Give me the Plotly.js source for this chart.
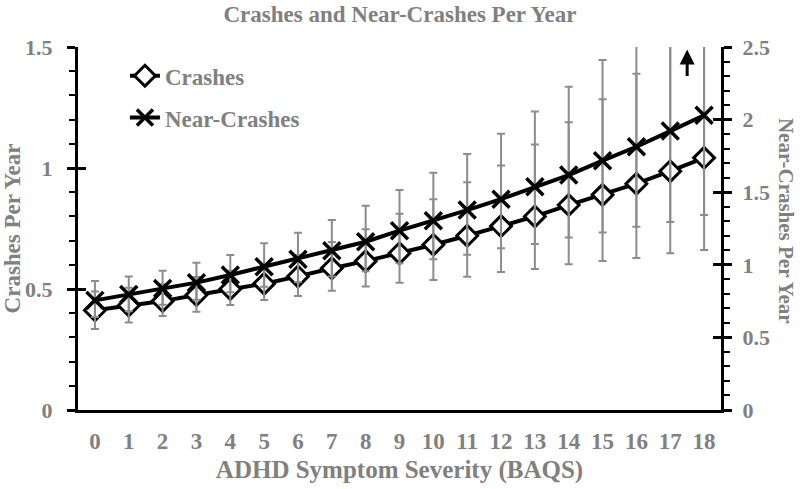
<!DOCTYPE html>
<html>
<head>
<meta charset="utf-8">
<script src="https://cdn.plot.ly/plotly-3.0.1.min.js"></script>
<style>
html,body{margin:0;padding:0;background:#fff;}
#chart{width:800px;height:489px;}
</style>
</head>
<body>
<div id="chart"></div>
<script>
// ---- data ----
const xLabels = ['0','1','2','3','4','5','6','7','8','9','10','11','12','13','14','15','16','17','18'];

const crashes   = [0.412,0.432,0.450,0.475,0.500,0.522,0.552,0.586,0.615,0.648,0.683,0.720,0.760,0.800,0.847,0.889,0.935,0.987,1.042];
const crashLow  = [0.335,0.362,0.388,0.406,0.434,0.455,0.471,0.493,0.510,0.526,0.537,0.551,0.570,0.583,0.602,0.616,0.628,0.648,0.661];
const crashHigh = [0.490,0.505,0.520,0.550,0.575,0.595,0.640,0.694,0.747,0.811,0.871,0.941,1.010,1.097,1.189,1.284,1.389,1.560,1.650];

const nearCrashes = [0.755,0.795,0.836,0.877,0.930,0.987,1.038,1.097,1.159,1.235,1.304,1.377,1.452,1.538,1.618,1.717,1.813,1.921,2.030];
const nearLow     = [0.640,0.680,0.725,0.759,0.811,0.849,0.882,0.919,0.955,1.010,1.038,1.070,1.114,1.143,1.188,1.222,1.262,1.295,1.343];
const nearHigh    = [0.888,0.920,0.959,1.014,1.067,1.148,1.221,1.309,1.407,1.515,1.634,1.763,1.903,2.056,2.227,2.410,2.600,2.850,3.050];

const leftTicks  = [0, 0.5, 1, 1.5];
const rightTicks = [0, 0.5, 1, 1.5, 2, 2.5];

const xVals = xLabels.map(Number);
const plus  = (hi, v) => hi.map((h, i) => h - v[i]);
const minus = (lo, v) => lo.map((l, i) => v[i] - l);

const GRAY = '#808080';
const FONT = 'Liberation Serif, Times New Roman, serif';

const traces = [
  {
    x: xVals, y: crashes, name: 'Crashes', type: 'scatter', mode: 'lines+markers',
    xaxis: 'x', yaxis: 'y', legendgroup: 'a',
    line: {color: '#000', width: 4},
    marker: {symbol: 'diamond', size: 16, color: '#fff', line: {color: '#000', width: 3}}
  },
  {
    x: xVals, y: crashes, type: 'scatter', mode: 'markers', showlegend: false, hoverinfo: 'skip',
    xaxis: 'x', yaxis: 'y',
    marker: {size: 1, color: 'rgba(0,0,0,0)'},
    error_y: {type: 'data', symmetric: false, array: plus(crashHigh, crashes), arrayminus: minus(crashLow, crashes),
              color: '#8c8c8c', thickness: 2, width: 4}
  },
  {
    x: xVals, y: nearCrashes, type: 'scatter', mode: 'markers', showlegend: false, hoverinfo: 'skip',
    xaxis: 'x', yaxis: 'y2',
    marker: {size: 1, color: 'rgba(0,0,0,0)'},
    error_y: {type: 'data', symmetric: false, array: plus(nearHigh, nearCrashes), arrayminus: minus(nearLow, nearCrashes),
              color: '#8c8c8c', thickness: 2, width: 4}
  },
  {
    x: xVals, y: nearCrashes, name: 'Near-Crashes', type: 'scatter', mode: 'lines+markers',
    xaxis: 'x', yaxis: 'y2', legendgroup: 'b',
    line: {color: '#000', width: 4},
    marker: {symbol: 'x-thin', size: 17, color: '#000', line: {color: '#000', width: 3.5}}
  },
  // inner halves of the crossing major ticks
  {x: [null], y: [null], xaxis: 'x', yaxis: 'y3', showlegend: false, hoverinfo: 'skip', type: 'scatter'},
  {x: [null], y: [null], xaxis: 'x', yaxis: 'y4', showlegend: false, hoverinfo: 'skip', type: 'scatter'}
];

const layout = {
  width: 800, height: 489,
  margin: {l: 78, r: 79, t: 47, b: 79},
  paper_bgcolor: '#fff', plot_bgcolor: '#fff',
  font: {family: FONT, color: GRAY, size: 20, weight: 'bold'},
  title: {text: 'Crashes and Near-Crashes Per Year', x: 0.5, xanchor: 'center', y: 0.971, yanchor: 'middle',
          font: {family: FONT, size: 23, color: GRAY, weight: 'bold'}},
  showlegend: true,
  legend: {x: 0.073, y: 0.98, xanchor: 'left', yanchor: 'top', bgcolor: 'rgba(0,0,0,0)',
           traceorder: 'grouped', tracegroupgap: 9, itemwidth: 30,
           font: {family: FONT, size: 23, color: GRAY, weight: 'bold'}},
  xaxis: {
    range: [-0.5, 18.5], tickmode: 'array', tickvals: xVals, ticktext: xLabels,
    showline: true, linecolor: '#000', linewidth: 3, ticks: '', showgrid: false, zeroline: false,
    ticklabelstandoff: 8,
    tickfont: {family: FONT, size: 23, color: GRAY, weight: 'bold'},
    title: {text: 'ADHD Symptom Severity (BAQS)', standoff: 8, font: {family: FONT, size: 25, color: GRAY, weight: 'bold'}}
  },
  yaxis: {
    range: [0, 1.5], tickmode: 'array', tickvals: leftTicks, ticktext: leftTicks.map(String),
    showline: true, linecolor: '#000', linewidth: 3, showgrid: false, zeroline: false,
    ticks: 'outside', ticklen: 8, tickwidth: 3, tickcolor: '#000', ticklabelstandoff: 10,
    minor: {ticks: 'outside', dtick: 0.1, ticklen: 6, tickwidth: 2, tickcolor: '#000', showgrid: false},
    tickfont: {family: FONT, size: 22, color: GRAY, weight: 'bold'},
    title: {text: 'Crashes Per Year', standoff: 6, font: {family: FONT, size: 23, color: GRAY, weight: 'bold'}}
  },
  yaxis2: {
    range: [0, 2.5], overlaying: 'y', side: 'right', tickmode: 'array', tickvals: rightTicks, ticktext: rightTicks.map(String),
    showline: true, linecolor: '#000', linewidth: 3, showgrid: false, zeroline: false,
    ticks: 'outside', ticklen: 8, tickwidth: 3, tickcolor: '#000', ticklabelstandoff: 6,
    minor: {ticks: 'outside', dtick: 0.1, ticklen: 6, tickwidth: 2, tickcolor: '#000', showgrid: false},
    tickfont: {family: FONT, size: 22, color: GRAY, weight: 'bold'}
  },
  yaxis3: {
    range: [0, 1.5], overlaying: 'y', side: 'left', tickmode: 'array', tickvals: leftTicks,
    showticklabels: false, ticks: 'inside', ticklen: 8, tickwidth: 3, tickcolor: '#000',
    showline: false, showgrid: false, zeroline: false
  },
  yaxis4: {
    range: [0, 2.5], overlaying: 'y', side: 'right', tickmode: 'array', tickvals: rightTicks,
    showticklabels: false, ticks: 'inside', ticklen: 8, tickwidth: 3, tickcolor: '#000',
    showline: false, showgrid: false, zeroline: false
  },
  annotations: [
    {xref: 'paper', yref: 'paper', x: 1.1, y: 0.52, text: 'Near-Crashes Per Year', textangle: 90,
     showarrow: false, xanchor: 'center', yanchor: 'middle',
     font: {family: FONT, size: 21, color: GRAY, weight: 'bold'}},
    {xref: 'x', yref: 'y', x: 17.5, y: 1.49, text: '', showarrow: true, ax: 0, ay: 28,
     arrowhead: 2, arrowsize: 1, arrowwidth: 3, arrowcolor: '#000', standoff: 0}
  ]
};

Plotly.newPlot('chart', traces, layout, {displayModeBar: false, staticPlot: true});
</script>
</body>
</html>
